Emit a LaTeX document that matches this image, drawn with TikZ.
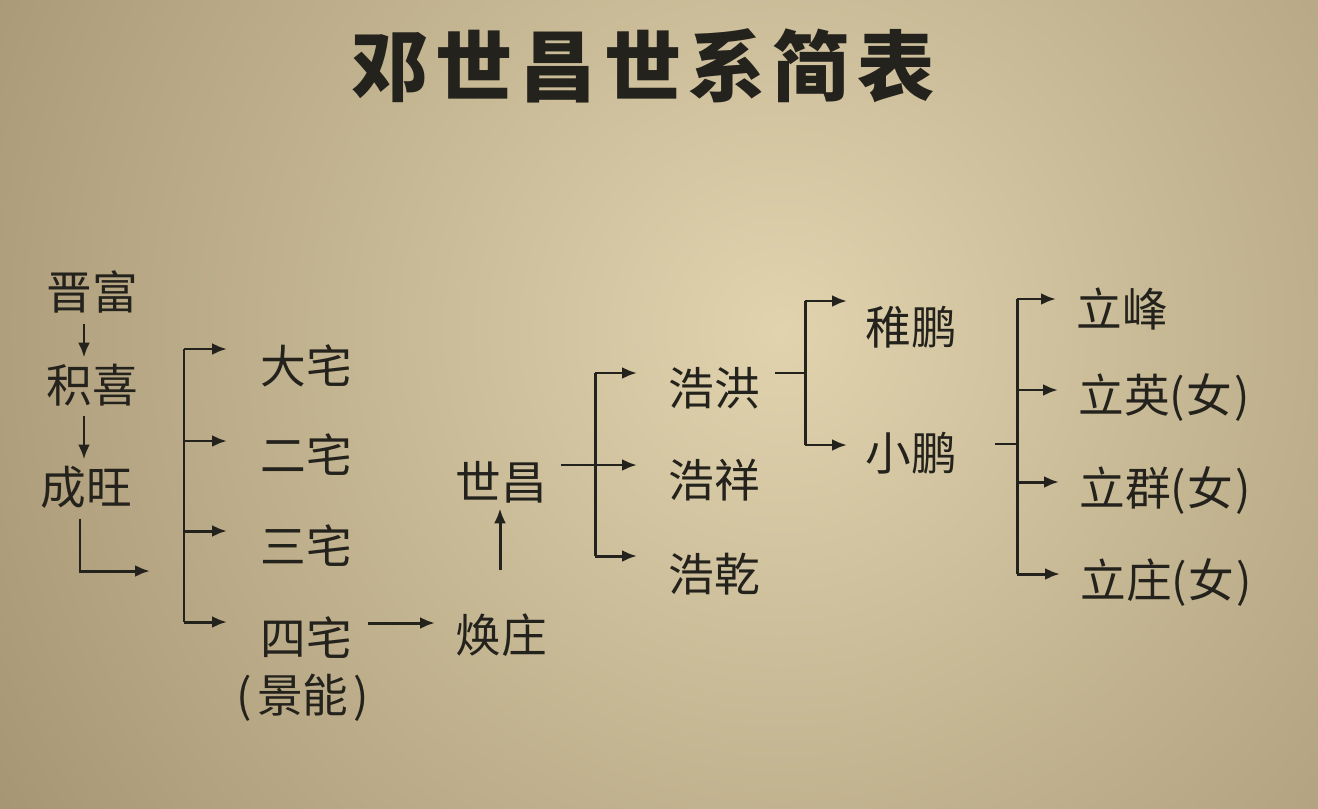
\documentclass[tikz,border=0pt]{standalone}
\usepackage{fontspec}
\setmainfont{Noto Sans CJK SC}
\usetikzlibrary{arrows.meta}

\definecolor{ink}{RGB}{36,34,28}
\definecolor{paperdark}{RGB}{152,134,101}
\definecolor{paperlight}{RGB}{224,211,174}

\begin{document}
\begin{tikzpicture}[x=0.02cm,y=-0.02cm]
	\tikzstyle{person} = [font=\fontsize{26}{26}\selectfont, text=ink, inner sep=0pt, anchor=west]
	\tikzstyle{line} = [line width=1.7pt, draw=ink]
	\tikzstyle{arr} = [line, -{Latex[length=0.3cm,width=0.24cm]}]
	% paper
	\useasboundingbox (0,0) rectangle (1318,808);
	\clip (0,0) rectangle (1318,808);
	\fill[paperdark] (0,0) rectangle (1318,808);
	\shade[inner color=paperlight, outer color=paperdark] (780,330) circle (1150);
	% title
	\node[font=\fontsize{44}{44}\selectfont\bfseries, text=ink, inner sep=0pt] (title) at (643,66) {邓\hspace{4pt}世\hspace{4pt}昌\hspace{4pt}世\hspace{4pt}系\hspace{4pt}简\hspace{4pt}表};
	% ancestors
	\node[person] (jf) at (46,292) {晋富};
	\node[person] (jx) at (46,385) {积喜};
	\node[person] (cw) at (40,487) {成旺};
	\draw[arr, shorten <=0.2cm, shorten >=0.12cm] (jf.south -| 84,0) -- (jx.north -| 84,0);
	\draw[arr, shorten <=0.2cm, shorten >=0.12cm] (jx.south -| 84,0) -- (cw.north -| 84,0);
	\coordinate (cwtip) at (150,571);
	\draw[arr, shorten <=0.2cm] (cw.south -| 80,0) |- (cwtip);
	% four houses
	\node[person] (dz) at (260,366) {大宅};
	\node[person] (ez) at (260,455) {二宅};
	\node[person] (sz) at (260,546) {三宅};
	\node[person] (fz) at (260,638) {四宅};
	\node[person] (jn) at (236,698) {(\hspace{3pt}景能\hspace{3pt})};
	\coordinate (b1top) at (184,349);
	\coordinate (b1bot) at (184,622);
	\draw[line] (b1top) -- (b1bot);
	\foreach \n/\y in {dz/349, ez/441, sz/531, fz/622}
		\draw[arr, shorten >=0.66cm] (184,\y) -- (\n.west |- 0,\y);
	% huanzhuang, shichang
	\node[person] (hz) at (455,635) {焕庄};
	\node[person] (sc) at (455,482) {世昌};
	\draw[arr, shorten <=0.32cm, shorten >=0.4cm] (fz.east |- 0,623) -- (hz.west |- 0,623);
	\draw[arr, shorten <=0.86cm, shorten >=0.1cm] (hz.north -| 500,0) -- (sc.south -| 500,0);
	% sons
	\node[person] (hh) at (668,388) {浩洪};
	\node[person] (hx) at (668,480) {浩祥};
	\node[person] (hq) at (668,574) {浩乾};
	\coordinate (b2top) at (595,373);
	\coordinate (b2bot) at (595,556);
	\draw[line] (b2top) -- (b2bot);
	\draw[arr, shorten <=0.28cm, shorten >=0.62cm] (sc.east |- 0,465) -- (hx.west |- 0,465);
	\draw[arr, shorten >=0.62cm] (b2top) -- (hh.west |- b2top);
	\draw[arr, shorten >=0.62cm] (b2bot) -- (hq.west |- b2bot);
	% grandsons
	\node[person] (zp) at (865,327) {稚鹏};
	\node[person] (xp) at (865,453) {小鹏};
	\coordinate (b3top) at (805,301);
	\coordinate (b3bot) at (805,445);
	\draw[line, shorten <=0.3cm] (hh.east |- 0,373) -- (805,373);
	\draw[line] (b3top) -- (b3bot);
	\draw[arr, shorten >=0.36cm] (b3top) -- (zp.west |- b3top);
	\draw[arr, shorten >=0.36cm] (b3bot) -- (xp.west |- b3bot);
	% great-grandchildren
	\node[person] (lf) at (1076,309) {立峰};
	\node[person] (ly) at (1078,398) {立英(\hspace{1pt}女\hspace{1pt})};
	\node[person] (lq) at (1079,491) {立群(\hspace{1pt}女\hspace{1pt})};
	\node[person] (lz) at (1080,583) {立庄(\hspace{1pt}女\hspace{1pt})};
	\coordinate (b4top) at (1017,299);
	\coordinate (b4bot) at (1017,574);
	\draw[line, shorten <=0.76cm] (xp.east |- 0,444) -- (1017,444);
	\draw[line] (b4top) -- (b4bot);
	\foreach \n/\y in {lf/299, ly/390, lq/482, lz/574}
		\draw[arr, shorten >=0.4cm] (1017,\y) -- (\n.west |- 0,\y);
\end{tikzpicture}
\end{document}
